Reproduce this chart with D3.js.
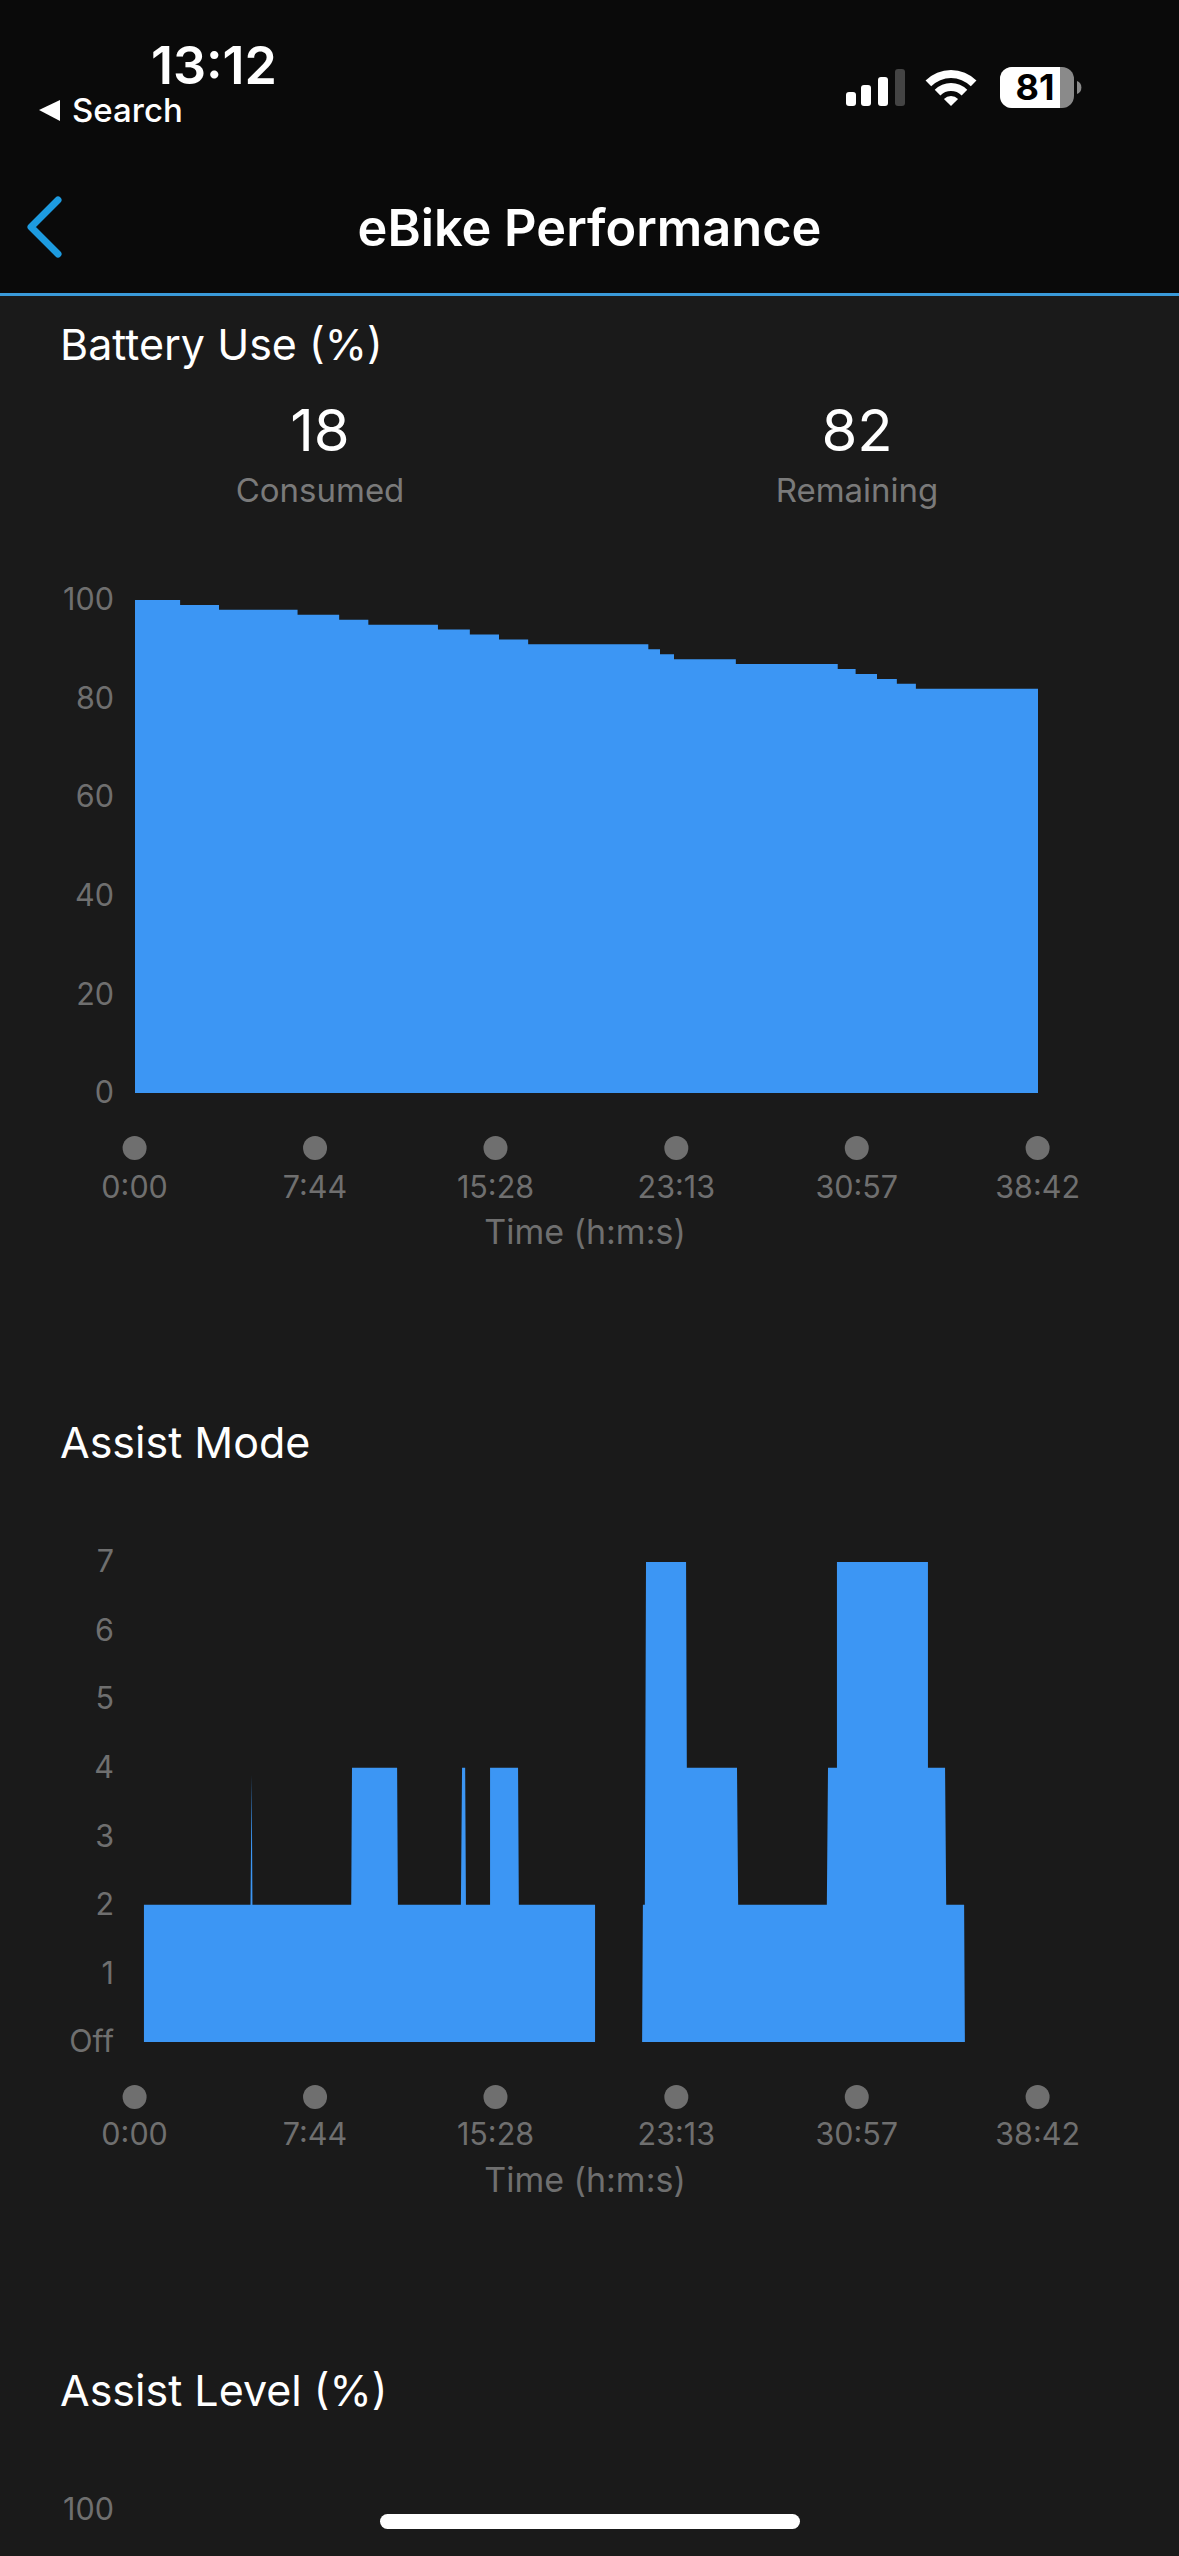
<!DOCTYPE html>
<html>
<head>
<meta charset="utf-8">
<title>eBike Performance</title>
<script src="https://cdn.jsdelivr.net/npm/d3@7/dist/d3.min.js"></script>
<style>
  html, body { margin: 0; padding: 0; background: #1a1a1a; }
  svg { display: block; }
  text { font-family: Inter, "Noto Sans", sans-serif; }
  .tick text { fill: #6f6f6f; font-size: 30.5px; }
</style>
</head>
<body>
<svg id="screen" width="1179" height="2556"></svg>
<script>
// Ride data: time in seconds since the start of the ride.
const batteryTimes = [0, 116, 216, 418, 525, 600, 779, 861, 936, 1011, 1320, 1350, 1386, 1545, 1807, 1853, 1908, 1959, 2008, 2322];
const batteryLevels = [100, 99, 98, 97, 96, 95, 94, 93, 92, 91, 90, 89, 88, 87, 86, 85, 84, 83, 82, 82];

const modeTimes = [23, 23, 297, 300, 302, 556, 558, 674, 676, 838, 841, 849, 851, 913, 913, 985, 987, 1183, 1183, 1304, 1306, 1311, 1314, 1417, 1419, 1548, 1551, 1779, 1782, 1805, 1805, 2039, 2039, 2083, 2086, 2132, 2134];
const modeValues = [0, 2, 2, 3.9, 2, 2, 4, 4, 2, 2, 4, 4, 2, 2, 4, 4, 2, 2, 0, 0, 2, 2, 7, 7, 4, 4, 2, 2, 4, 4, 7, 7, 4, 4, 2, 2, 0];

const timeTicks = [0, 464, 928, 1393, 1857, 2322];
const batteryTicks = [0, 20, 40, 60, 80, 100];
const modeTicks = [0, 1, 2, 3, 4, 5, 6, 7];
const batterySummary = [
  { value: "18", label: "Consumed" },
  { value: "82", label: "Remaining" }
];

const BLUE = "#3c96f4";
const GREY = "#6f6f6f";
const svg = d3.select("#screen");

svg.append("rect").attr("width", 1179).attr("height", 2556).attr("fill", "#1a1a1a");

const formatTime = s => `${Math.floor(s / 60)}:${String(s % 60).padStart(2, "0")}`;
const x = d3.scaleLinear().domain([0, 2322]).range([135, 1038]);

// Draws one filled time series with its two axes.
function drawChart({ times, values, y, yTicks, yFormat, curve, baseline, labelY, titleY }) {
  const points = d3.zip(times, values);
  const area = d3.area()
    .x(d => x(d[0]))
    .y0(y(0))
    .y1(d => y(d[1]))
    .curve(curve);
  svg.append("path").attr("d", area(points)).attr("fill", BLUE);

  const left = svg.append("g")
    .attr("transform", "translate(114,0)")
    .call(d3.axisLeft(y).tickValues(yTicks).tickFormat(yFormat).tickSize(0).tickPadding(0));
  left.select(".domain").remove();

  const bottom = svg.append("g")
    .attr("transform", `translate(-0.4,${baseline})`)
    .call(d3.axisBottom(x).tickValues(timeTicks).tickFormat(formatTime).tickSize(0).offset(0));
  bottom.select(".domain").remove();
  bottom.selectAll(".tick text").attr("y", labelY).attr("dy", 0);
  bottom.selectAll(".tick").append("circle")
    .attr("cy", 55).attr("r", 12).attr("fill", GREY);

  svg.append("text")
    .attr("x", 585).attr("y", baseline + titleY)
    .attr("text-anchor", "middle")
    .attr("font-size", 34).attr("fill", GREY)
    .text("Time (h:m:s)");
}

// Battery use
const yBattery = d3.scaleLinear().domain([0, 100]).range([1093, 600]);
drawChart({
  times: batteryTimes, values: batteryLevels, y: yBattery,
  yTicks: batteryTicks, yFormat: d3.format("d"),
  curve: d3.curveStepAfter, baseline: 1093, labelY: 105, titleY: 151
});

// Assist mode
const yMode = d3.scaleLinear().domain([0, 7]).range([2042, 1562]);
drawChart({
  times: modeTimes, values: modeValues, y: yMode,
  yTicks: modeTicks, yFormat: d => d === 0 ? "Off" : String(d),
  curve: d3.curveLinear, baseline: 2042, labelY: 103, titleY: 150
});

// Section headings
const headings = [["Battery Use (%)", 360], ["Assist Mode", 1458], ["Assist Level (%)", 2406]];
svg.selectAll(".heading").data(headings).join("text")
  .attr("class", "heading")
  .attr("x", 60).attr("y", d => d[1])
  .attr("font-size", 43).attr("fill", "#ffffff")
  .text(d => d[0]);

// Consumed / remaining summary
const summaryX = d3.scalePoint().domain(batterySummary.map(d => d.label)).range([320, 857]);
const summary = svg.selectAll(".summary").data(batterySummary).join("g")
  .attr("class", "summary")
  .attr("transform", d => `translate(${summaryX(d.label)},0)`)
  .attr("text-anchor", "middle");
summary.append("text").attr("y", 451).attr("font-size", 58).attr("fill", "#ffffff").text(d => d.value);
summary.append("text").attr("y", 502).attr("font-size", 33).attr("fill", "#7a7a7a").text(d => d.label);

// First tick of the partly scrolled Assist Level chart
svg.append("text").attr("x", 114).attr("y", 2520).attr("text-anchor", "end")
  .attr("font-size", 30.5).attr("fill", GREY).text("100");

// Navigation bar
svg.append("rect").attr("width", 1179).attr("height", 293).attr("fill", "#0a0a0a");
svg.append("rect").attr("y", 293).attr("width", 1179).attr("height", 3).attr("fill", "#3a9ad9");
svg.append("path").attr("d", "M58,200L31,227L58,254")
  .attr("fill", "none").attr("stroke", "#1d9be0").attr("stroke-width", 7)
  .attr("stroke-linecap", "round").attr("stroke-linejoin", "round");
svg.append("text").attr("x", 589.5).attr("y", 246).attr("text-anchor", "middle")
  .attr("font-size", 50.5).attr("font-weight", 600).attr("fill", "#ffffff").text("eBike Performance");

// Status bar
svg.append("text").attr("x", 214).attr("y", 84).attr("text-anchor", "middle")
  .attr("font-size", 52).attr("font-weight", 600).attr("fill", "#ffffff").text("13:12");
svg.append("path").attr("d", "M39,110L60,100V121Z").attr("fill", "#ffffff");
svg.append("text").attr("x", 72).attr("y", 122)
  .attr("font-size", 33).attr("font-weight", 500).attr("fill", "#ffffff").text("Search");

const signalBars = [[846, 92, "#fff"], [861, 85, "#fff"], [878, 77, "#fff"], [895, 69, "#444"]];
svg.selectAll(".signal").data(signalBars).join("rect")
  .attr("class", "signal")
  .attr("x", d => d[0]).attr("y", d => d[1])
  .attr("width", 10).attr("height", d => 106 - d[1])
  .attr("rx", 3).attr("fill", d => d[2]);

// Wi-Fi glyph built from concentric arcs around its lower tip
const wifiArc = d3.arc().startAngle(-Math.PI / 4).endAngle(Math.PI / 4);
const wifi = svg.append("g").attr("transform", "translate(951,106)");
[[0, 10], [15, 23], [28, 36]].forEach(([innerRadius, outerRadius]) => {
  wifi.append("path").attr("fill", "#fff").attr("d", wifiArc({ innerRadius, outerRadius }));
});

// Battery glyph
svg.append("rect").attr("x", 1000).attr("y", 67).attr("width", 74).attr("height", 41).attr("rx", 12).attr("fill", "#8a8a8a");
svg.append("path").attr("d", "M1060,67H1012A12,12 0 0 0 1000,79V96A12,12 0 0 0 1012,108H1060Z").attr("fill", "#fff");
svg.append("path").attr("d", "M1077,81A7,7 0 0 1 1077,94Z").attr("fill", "#8a8a8a");
svg.append("text").attr("x", 1035).attr("y", 100).attr("text-anchor", "middle")
  .attr("font-size", 36).attr("font-weight", 700).attr("fill", "#000").text("81");

// Home indicator
svg.append("rect").attr("x", 380).attr("y", 2514).attr("width", 420).attr("height", 15).attr("rx", 7.5).attr("fill", "#ffffff");
</script>
</body>
</html>
